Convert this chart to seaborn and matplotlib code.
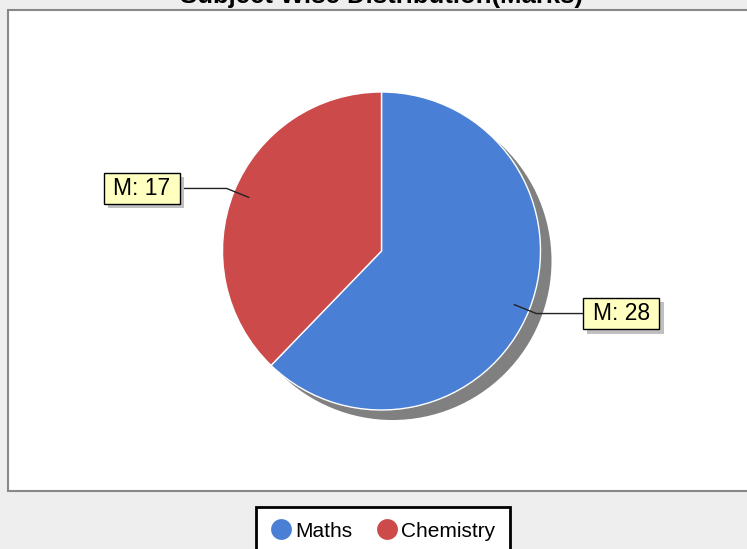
import numpy as np
import seaborn as sns
import matplotlib.pyplot as plt
import matplotlib.patheffects as pe
from matplotlib.patches import Rectangle, Circle
from matplotlib.lines import Line2D

# DATA
title = 'Subject Wise Distribution(Marks)'
subjects = ['Maths', 'Chemistry']
marks = [28, 17]
label_prefix = 'M'
colors = sns.color_palette(['#4A7FD6', '#CC4A4A'])

# STYLE
sns.set_style('white')
plt.rcParams['font.family'] = ['Liberation Sans', 'DejaVu Sans']

W, H = 747, 549
fig = plt.figure(figsize=(W / 100, H / 100), dpi=100, facecolor='#EEEEEE')
ax = fig.add_axes([0, 0, 1, 1])

# PLOT AREA
ax.add_patch(Rectangle((8, H - 491), 800, 481, facecolor='white',
                       edgecolor='#888888', linewidth=1.5, zorder=0))

# PIE
cx, cy, R = 381.5, H - 251, 159
ax.add_patch(Circle((cx + 11, cy - 10), R, facecolor='#808080',
                    edgecolor='none', zorder=1))
wedges, _ = ax.pie(marks, colors=colors, startangle=90, counterclock=False,
                   center=(cx, cy), radius=R, frame=True,
                   wedgeprops=dict(edgecolor='white', linewidth=1, zorder=2))

# LABELS WITH LEADER LINES
for w, v in zip(wedges, marks):
    theta = np.deg2rad((w.theta1 + w.theta2) / 2)
    c, s = np.cos(theta), np.sin(theta)
    side = 1 if c > 0 else -1
    p1 = (cx + 0.9 * R * c, cy + 0.9 * R * s)
    p2 = (cx + 1.05 * R * c, cy + 1.05 * R * s)
    p3 = (cx + side * 1.265 * R, p2[1])
    ax.plot([p1[0], p2[0], p3[0]], [p1[1], p2[1], p3[1]],
            color='#222222', linewidth=1, zorder=3)
    t = ax.text(p3[0] + side * 10, p3[1], f'{label_prefix}: {v}',
                ha='left' if side > 0 else 'right', va='center',
                fontsize=16.5, color='black', zorder=4,
                bbox=dict(boxstyle='square,pad=0.42', mutation_aspect=0.45,
                          facecolor='#FFFFC0', edgecolor='black', linewidth=1))
    t.get_bbox_patch().set_path_effects(
        [pe.SimplePatchShadow(offset=(3, -3), shadow_rgbFace='#C0C0C0', alpha=1),
         pe.Normal()])

# TITLE
ax.text(381, H - 3, title, ha='center', va='baseline',
        fontsize=18.5, fontweight='bold', color='black')

ax.set_xlim(0, W)
ax.set_ylim(0, H)
ax.set_aspect('auto')
ax.axis('off')

# LEGEND
handles = [Line2D([], [], linestyle='none', marker='o', markersize=15,
                  markerfacecolor=col, markeredgecolor='none') for col in colors]
leg = fig.legend(handles, subjects, loc='upper center', ncol=2,
                 bbox_to_anchor=(383 / W, 1 - 507 / H), fontsize=15,
                 frameon=True, fancybox=False, handlelength=1.0,
                 handletextpad=0.15, columnspacing=1.2, borderpad=0.7,
                 borderaxespad=0, labelcolor='black')
leg.get_frame().set_edgecolor('black')
leg.get_frame().set_linewidth(2)
leg.get_frame().set_facecolor('white')
leg.get_frame().set_alpha(1)

plt.savefig('out.png', dpi=100, facecolor=fig.get_facecolor())
plt.close()
